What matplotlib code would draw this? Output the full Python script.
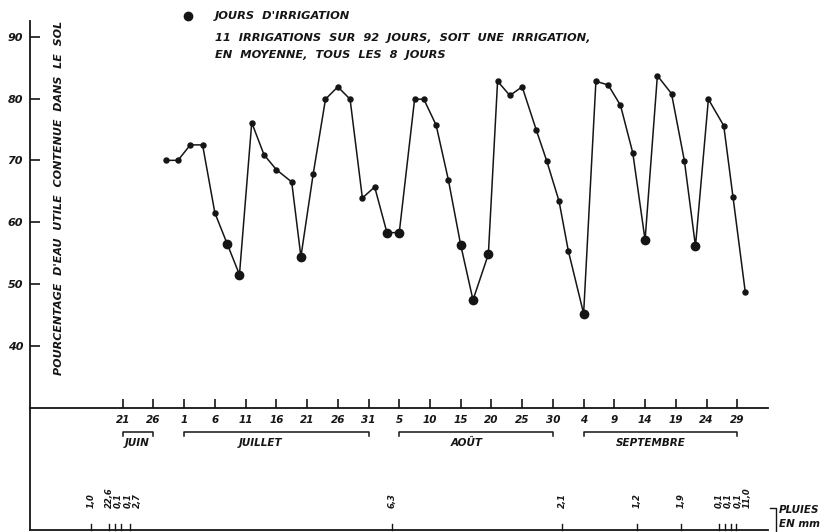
import matplotlib
matplotlib.use("Agg")
import matplotlib.pyplot as plt
import numpy as np

# ---------------- data ----------------
# days counted from 21 June (0 = 21 June, 10 = 1 July, 41 = 1 Aug, 72 = 1 Sept)
days = [7, 9, 11, 13, 15, 17, 19, 21, 23, 25, 27.5, 29, 31, 33, 35, 37, 39, 41, 43, 45,
        47.5, 49, 51, 53, 55, 57, 59.5, 61, 63, 65, 67.3, 69, 71, 72.5, 75, 77, 79, 81,
        83, 85, 87, 89.3, 91.4, 93.2, 95.3, 97.8, 99.3, 101.3]
water_pct = [70.0, 70.0, 72.5, 72.5, 61.5, 56.5, 51.5, 76.1, 70.9, 68.5, 66.5, 54.4,
             67.8, 79.9, 81.9, 79.9, 63.9, 65.7, 58.3, 58.3, 79.9, 79.9, 75.7, 66.8,
             56.3, 47.4, 54.8, 82.8, 80.5, 81.9, 74.9, 69.9, 63.4, 55.4, 45.2, 82.8,
             82.2, 78.9, 71.2, 57.1, 83.7, 80.8, 69.9, 56.1, 79.9, 75.6, 64.1, 48.7]
irrigation_idx = [5, 6, 11, 18, 19, 24, 25, 26, 34, 39, 43]

tick_days = list(range(0, 101, 5))
tick_labels = ["21", "26", "1", "6", "11", "16", "21", "26", "31", "5", "10", "15",
               "20", "25", "30", "4", "9", "14", "19", "24", "29"]
y_ticks = [40, 50, 60, 70, 80, 90]

months = ["JUIN", "JUILLET", "AOÛT", "SEPTEMBRE"]
month_start = [0, 10, 45, 75]
month_end = [5, 40, 70, 100]
month_label_day = [2.3, 22.4, 55.9, 86.0]

rain_days = [-5.2, -2.2, -1.3, -0.3, 1.2, 43.8, 71.5, 83.7, 90.8, 97.0, 98.0, 99.0, 99.8]
rain_mm = ["1,0", "22,6", "0,1", "0,1", "2,7", "6,3", "2,1", "1,2", "1,9",
           "0,1", "0,1", "0,1", "11,0"]

# ---------------- figure ----------------
W, H = 827, 532
fig = plt.figure(figsize=(W / 100, H / 100), dpi=100)
ink = "#151515"
fam = "DejaVu Sans"

def fx(px):
    return px / W

def fy(py):
    return 1 - py / H

ax = fig.add_axes([fx(30), fy(407.5), fx(768) - fx(30), fy(20.7) - fy(407.5)])
rax = fig.add_axes([fx(30), fy(530), fx(768) - fx(30), fy(407.5) - fy(530)], sharex=ax)

ax.set_xlim(-15.08, 105.0)
ax.set_ylim(30, 92.6)
rax.set_ylim(0, 122.5)

for a in (ax, rax):
    a.spines["top"].set_visible(False)
    a.spines["right"].set_visible(False)
    for s in ("left", "bottom"):
        a.spines[s].set_color(ink)
        a.spines[s].set_linewidth(1.3)
    a.set_facecolor("none")

# main curve
ax.plot(days, water_pct, color=ink, lw=1.1, zorder=2, clip_on=False)
small = [i for i in range(len(days)) if i not in irrigation_idx]
ax.plot([days[i] for i in small], [water_pct[i] for i in small], "o", color=ink,
        ms=3.6, zorder=3, clip_on=False)
ax.plot([days[i] for i in irrigation_idx], [water_pct[i] for i in irrigation_idx], "o",
        color=ink, ms=6.0, zorder=4, clip_on=False)

# y ticks
ax.set_yticks(y_ticks)
ax.set_yticklabels([str(v) for v in y_ticks], fontsize=8, fontstyle="italic",
                   fontweight="bold", family=fam, color=ink)
ax.tick_params(axis="y", direction="in", length=7.5, width=1.2, pad=5, colors=ink)

# x ticks
ax.set_xticks(tick_days)
ax.set_xticklabels(tick_labels, fontsize=7.5, fontstyle="italic", fontweight="bold",
                   family=fam, color=ink)
ax.tick_params(axis="x", direction="in", length=6.5, width=1.2, pad=5.5, colors=ink)

# rain axes: no ticks of its own
rax.tick_params(axis="both", which="both", length=0, labelbottom=False, labelleft=False)
rax.set_yticks([])

# month brackets (y in pixels above bottom line)
for m, s, e, c in zip(months, month_start, month_end, month_label_day):
    rax.plot([s, s, e, e], [94.5, 98.5, 98.5, 94.5], color=ink, lw=1.1, clip_on=False)
    rax.text(c, 87, m, ha="center", va="center", fontsize=7.5, fontstyle="italic",
             fontweight="bold", family=fam, color=ink)

# rain ticks and labels (labels pushed apart so they do not collide)
gap = 1.55
label_x = []
for d in rain_days:
    if label_x and d - label_x[-1] < gap:
        label_x.append(label_x[-1] + gap)
    else:
        label_x.append(d)
for d, lx, lab in zip(rain_days, label_x, rain_mm):
    rax.plot([d, d], [0, 6], color=ink, lw=1.0, clip_on=False)
    rax.text(lx, 22, lab, rotation=90, ha="center", va="bottom", fontsize=6,
             fontstyle="italic", fontweight="bold", family=fam, color=ink)

# PLUIES EN mm
fig.add_artist(plt.Line2D([fx(770), fx(776), fx(776)], [fy(508), fy(508), fy(531)],
                          color=ink, lw=1.0))
fig.text(fx(779), fy(510), "PLUIES", fontsize=7.5, fontstyle="italic", fontweight="bold",
         family=fam, color=ink, va="center", ha="left")
fig.text(fx(779), fy(524), "EN mm", fontsize=7.5, fontstyle="italic", fontweight="bold",
         family=fam, color=ink, va="center", ha="left")

# y axis label
fig.text(fx(59), fy(198), "POURCENTAGE  D'EAU  UTILE  CONTENUE  DANS  LE  SOL",
         rotation=90, ha="center", va="center", fontsize=8, fontstyle="italic",
         fontweight="bold", family=fam, color=ink)

# legend / annotation
fig.add_artist(plt.Line2D([fx(188)], [fy(16)], marker="o", ms=6.0, color=ink, lw=0))
fig.text(fx(215), fy(16), "JOURS  D'IRRIGATION", fontsize=8.2, fontstyle="italic",
         fontweight="bold", family=fam, color=ink, va="center", ha="left")
fig.text(fx(215), fy(38), "11  IRRIGATIONS  SUR  92  JOURS,  SOIT  UNE  IRRIGATION,",
         fontsize=8.2, fontstyle="italic", fontweight="bold", family=fam, color=ink,
         va="center", ha="left")
fig.text(fx(215), fy(55), "EN  MOYENNE,  TOUS  LES  8  JOURS", fontsize=8.2,
         fontstyle="italic", fontweight="bold", family=fam, color=ink,
         va="center", ha="left")

fig.savefig("out.png", dpi=100, facecolor="white")
